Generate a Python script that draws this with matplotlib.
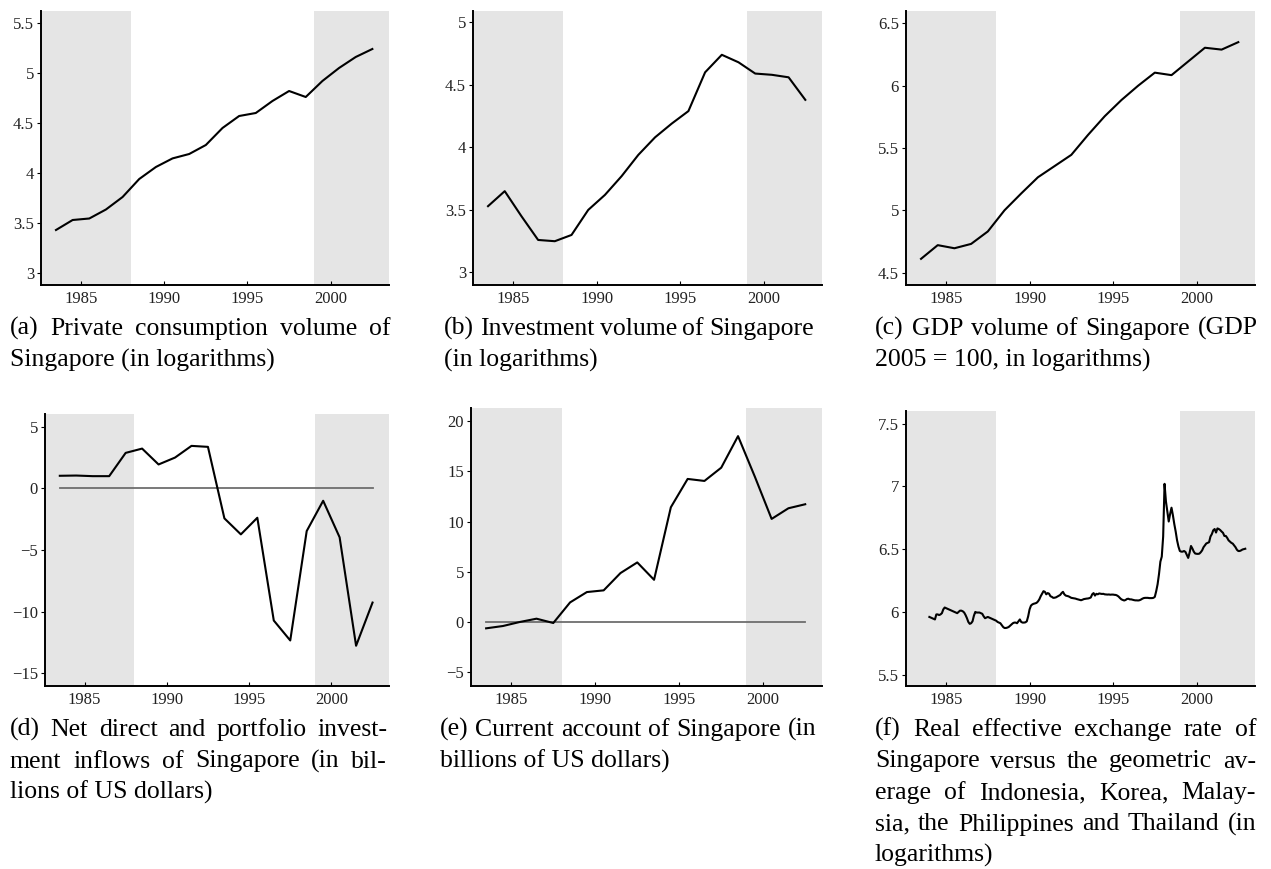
import numpy as np
import matplotlib
matplotlib.use("Agg")
import matplotlib.pyplot as plt
from matplotlib.ticker import FuncFormatter

plt.rcParams.update({"font.family": "serif", "font.serif": ["Liberation Serif", "DejaVu Serif"]})

# ---- data -------------------------------------------------------------------
YEARS = list(range(1983, 2003))          # annual, plotted at mid-year
CONSUMPTION = [3.43, 3.53, 3.545, 3.635, 3.76, 3.94, 4.06, 4.146, 4.19, 4.28,
               4.45, 4.57, 4.60, 4.72, 4.82, 4.76, 4.92, 5.05, 5.16, 5.24]
INVESTMENT = [3.53, 3.65, 3.45, 3.26, 3.25, 3.30, 3.50, 3.62, 3.77, 3.94,
              4.08, 4.19, 4.29, 4.60, 4.74, 4.68, 4.59, 4.58, 4.56, 4.38]
GDP = [4.61, 4.72, 4.695, 4.73, 4.83, 5.0, 5.135, 5.265, 5.355, 5.445,
       5.605, 5.755, 5.885, 6.0, 6.105, 6.085, 6.195, 6.305, 6.29, 6.35]
INFLOWS = [1.03, 1.05, 1.0, 1.0, 2.89, 3.24, 1.95, 2.51, 3.46, 3.38,
           -2.43, -3.73, -2.38, -10.73, -12.35, -3.46, -1.0, -3.97, -12.78, -9.27]
CURRENT_ACCOUNT = [-0.63, -0.40, 0.0, 0.33, -0.1, 1.95, 2.98, 3.15, 4.87, 5.93,
                   4.2, 11.42, 14.24, 14.04, 15.36, 18.5, 14.47, 10.26, 11.32, 11.72]

# monthly REER, Jan 1984 - Dec 2002 (one row per year)
REER = [
    5.96, 5.955, 5.95, 5.945, 5.94, 5.98, 5.98, 5.975, 5.98, 5.99, 6.02, 6.035,
    6.03, 6.025, 6.02, 6.015, 6.01, 6.005, 6.0, 5.995, 5.99, 6.0, 6.01, 6.01,
    6.005, 5.995, 5.975, 5.95, 5.92, 5.905, 5.91, 5.925, 5.97, 6.0, 5.995, 5.995,
    5.995, 5.99, 5.985, 5.965, 5.95, 5.955, 5.96, 5.955, 5.95, 5.945, 5.94, 5.935,
    5.93, 5.92, 5.915, 5.91, 5.895, 5.88, 5.872, 5.872, 5.875, 5.88, 5.89, 5.9,
    5.91, 5.915, 5.915, 5.91, 5.925, 5.94, 5.92, 5.915, 5.915, 5.917, 5.925, 5.965,
    6.02, 6.05, 6.06, 6.065, 6.068, 6.072, 6.083, 6.1, 6.125, 6.145, 6.165, 6.16,
    6.14, 6.15, 6.145, 6.125, 6.12, 6.112, 6.113, 6.116, 6.122, 6.128, 6.135, 6.15,
    6.16, 6.14, 6.13, 6.127, 6.124, 6.118, 6.112, 6.11, 6.108, 6.106, 6.102, 6.099,
    6.096, 6.093, 6.097, 6.102, 6.104, 6.106, 6.107, 6.11, 6.115, 6.14, 6.15, 6.13,
    6.144, 6.14, 6.147, 6.145, 6.143, 6.144, 6.14, 6.139, 6.138, 6.139, 6.137, 6.138,
    6.138, 6.136, 6.135, 6.13, 6.122, 6.11, 6.1, 6.095, 6.091, 6.095, 6.103, 6.105,
    6.1, 6.1, 6.097, 6.094, 6.092, 6.092, 6.091, 6.093, 6.098, 6.105, 6.11, 6.112,
    6.112, 6.112, 6.11, 6.11, 6.11, 6.112, 6.12, 6.165, 6.22, 6.3, 6.4, 6.44,
    6.6, 7.02, 6.88, 6.8, 6.72, 6.78, 6.83, 6.77, 6.7, 6.64, 6.57, 6.52,
    6.485, 6.48, 6.48, 6.485, 6.478, 6.455, 6.43, 6.472, 6.525, 6.505, 6.48, 6.465,
    6.463, 6.462, 6.464, 6.475, 6.49, 6.515, 6.53, 6.545, 6.55, 6.555, 6.6, 6.62,
    6.65, 6.66, 6.632, 6.665, 6.66, 6.652, 6.64, 6.63, 6.605, 6.605, 6.59, 6.57,
    6.56, 6.55, 6.544, 6.53, 6.515, 6.495, 6.485, 6.485, 6.49, 6.497, 6.5, 6.503,
]
REER_START = 1984

SHADE = [(1982.6, 1988), (1999, 2003.5)]
XLIM = (1982.6, 2003.5)
XTICKS = [1985, 1990, 1995, 2000]

CAPTIONS = {
    "a": ["(a) Private consumption volume of", "Singapore (in logarithms)"],
    "b": ["(b) Investment volume of Singapore", "(in logarithms)"],
    "c": ["(c) GDP volume of Singapore (GDP", "2005 = 100, in logarithms)"],
    "d": ["(d) Net direct and portfolio invest-", "ment inflows of Singapore (in bil-",
          "lions of US dollars)"],
    "e": ["(e) Current account of Singapore (in", "billions of US dollars)"],
    "f": ["(f) Real effective exchange rate of", "Singapore versus the geometric av-",
          "erage of Indonesia, Korea, Malay-", "sia, the Philippines and Thailand (in",
          "logarithms)"],
}

W, H = 1271, 869
fig = plt.figure(figsize=(W / 100, H / 100), dpi=100)


def make_ax(left, right, top, bottom):
    return fig.add_axes([left / W, 1 - bottom / H, (right - left) / W, (bottom - top) / H])


def style(ax, ylim, yticks):
    for a, b in SHADE:
        ax.axvspan(a, b, color="#e5e5e5", lw=0, zorder=0)
    ax.set_xlim(*XLIM)
    ax.set_ylim(*ylim)
    ax.set_xticks(XTICKS)
    ax.set_yticks(yticks)
    ax.yaxis.set_major_formatter(FuncFormatter(lambda v, p: ("%g" % v).replace("-", "\u2212")))
    for s in ("top", "right"):
        ax.spines[s].set_visible(False)
    for s in ("left", "bottom"):
        ax.spines[s].set_linewidth(1.4)
    ax.tick_params(axis="x", direction="in", length=3, width=0.8, labelsize=12,
                   labelcolor="#222", pad=4)
    ax.tick_params(axis="y", direction="out", length=3, width=0.8, labelsize=12,
                   labelcolor="#222", pad=2)


mid = [y + 0.5 for y in YEARS]

ax = make_ax(41, 389, 11, 285)
ax.plot(mid, CONSUMPTION, color="black", lw=1.5)
style(ax, (2.88, 5.62), [3, 3.5, 4, 4.5, 5, 5.5])

ax = make_ax(473, 822, 11, 285)
ax.plot(mid, INVESTMENT, color="black", lw=1.5)
style(ax, (2.9, 5.09), [3, 3.5, 4, 4.5, 5])

ax = make_ax(906, 1255, 11, 285)
ax.plot(mid, GDP, color="black", lw=1.5)
style(ax, (4.4, 6.6), [4.5, 5, 5.5, 6, 6.5])

ax = make_ax(45, 389, 414, 686)
ax.plot([mid[0], mid[-1]], [0, 0], color="#6e6e6e", lw=1.3)
ax.plot(mid, INFLOWS, color="black", lw=1.5)
style(ax, (-16.05, 6.05), [-15, -10, -5, 0, 5])

ax = make_ax(471, 822, 408, 686)
ax.plot([mid[0], mid[-1]], [0, 0], color="#6e6e6e", lw=1.3)
ax.plot(mid, CURRENT_ACCOUNT, color="black", lw=1.5)
style(ax, (-6.37, 21.3), [-5, 0, 5, 10, 15, 20])

ax = make_ax(906, 1255, 411, 686)
months = [REER_START + i / 12 for i in range(len(REER))]
ax.plot(months, REER, color="black", lw=1.5)
style(ax, (5.41, 7.6), [5.5, 6, 6.5, 7, 7.5])

# ---- justified captions -----------------------------------------------------
CAP_FS = 18.5
LINE = 31.5
renderer = fig.canvas.get_renderer()


def caption(lines, x0, y0, width):
    for i, line in enumerate(lines):
        y = 1 - (y0 + i * LINE) / H
        if i == len(lines) - 1:
            fig.text(x0 / W, y, line, fontsize=CAP_FS, va="baseline", ha="left")
            continue
        words = line.split()
        texts = [fig.text(0, y, w, fontsize=CAP_FS, va="baseline", ha="left") for w in words]
        widths = [t.get_window_extent(renderer).width for t in texts]
        gap = (width - sum(widths)) / (len(words) - 1)
        x = x0
        for t, w in zip(texts, widths):
            t.set_x(x / W)
            x += w + gap


caption(CAPTIONS["a"], 10, 335, 381)
caption(CAPTIONS["b"], 444, 335, 370)
caption(CAPTIONS["c"], 875, 335, 383)
caption(CAPTIONS["d"], 10, 736, 377)
caption(CAPTIONS["e"], 440, 736, 376)
caption(CAPTIONS["f"], 875, 736, 381)

fig.savefig("out.png", dpi=100)
